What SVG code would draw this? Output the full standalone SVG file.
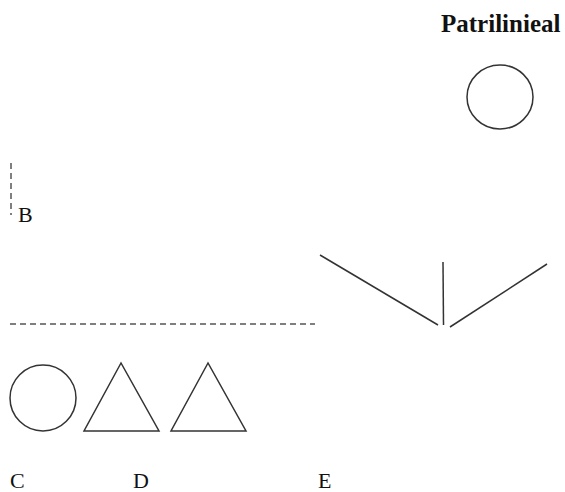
<svg xmlns="http://www.w3.org/2000/svg" width="565" height="492" viewBox="0 0 565 492">
<style>
.s{fill:none;stroke:#333;stroke-width:1.5}
.d{fill:none;stroke:#555;stroke-width:1.5;stroke-dasharray:6,4}
.t{font-family:"Liberation Serif",serif;font-size:22px;fill:#111}
.h{font-family:"Liberation Serif",serif;font-size:25px;font-weight:bold;fill:#111}
</style>
<rect width="565" height="492" fill="#fff"/>
<g id="title"><text class="h" x="441" y="32">Patrilinieal</text></g>
<g id="circle-top"><ellipse class="s" cx="500" cy="97" rx="33" ry="32"/></g>
<g id="label-B"><text class="t" x="18" y="222">B</text></g>
<g id="circle-C"><circle class="s" cx="43" cy="398" r="33"/></g>
<g id="triangle-1"><polygon class="s" points="121,363 84,431 159,431"/></g>
<g id="triangle-2"><polygon class="s" points="208,363 171,431 246,431"/></g>
<g id="label-C"><text class="t" x="10" y="488">C</text></g>
<g id="label-D"><text class="t" x="133" y="488">D</text></g>
<g id="label-E"><text class="t" x="318" y="488">E</text></g>
<g id="connectors">
<line class="d" x1="11" y1="163" x2="11" y2="215" stroke-dasharray="5,3"/>
<line class="d" x1="10" y1="324" x2="315" y2="324"/>
<line class="s" x1="320" y1="255" x2="438" y2="325"/>
<line class="s" x1="443" y1="262" x2="443.5" y2="325"/>
<line class="s" x1="450" y1="327" x2="547" y2="264"/>
</g>
</svg>
